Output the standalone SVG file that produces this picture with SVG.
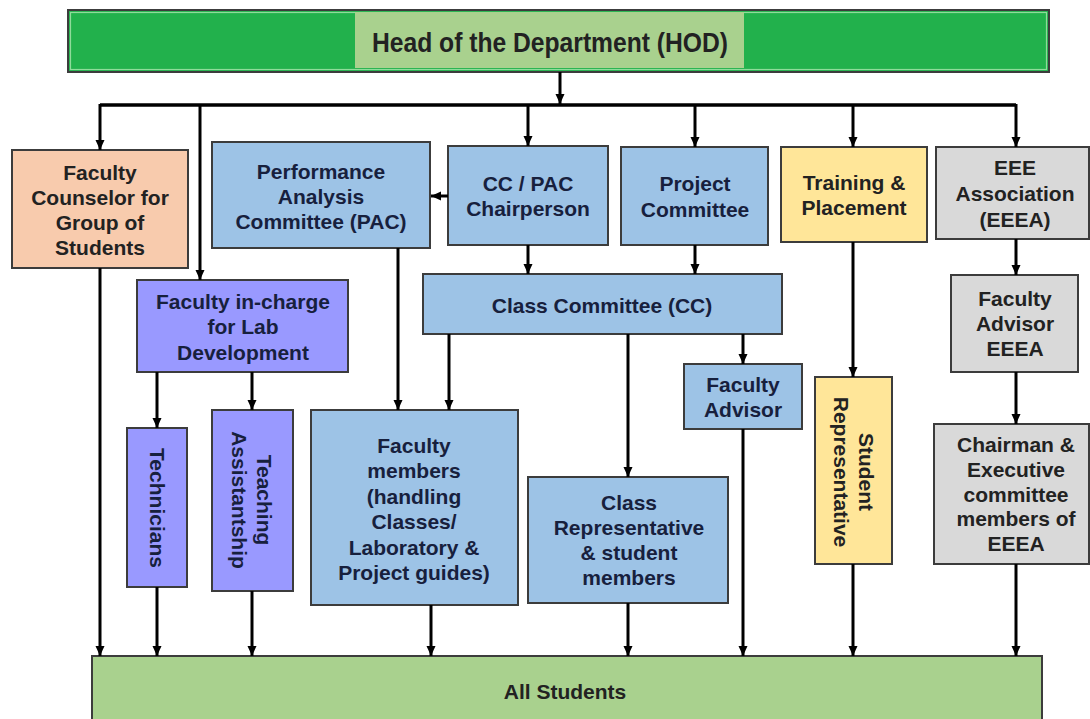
<svg xmlns="http://www.w3.org/2000/svg" width="1090" height="719" viewBox="0 0 1090 719">
<defs>
<marker id="ah" markerUnits="userSpaceOnUse" markerWidth="10" markerHeight="10" viewBox="0 0 10 10" refX="10" refY="5" orient="auto">
<path d="M0,0.5 L10,5 L0,9.5 z" fill="#000"/>
</marker>
<style>
.b{stroke:#3c3c3c;stroke-width:2}
.blue{fill:#9DC3E6}
.peach{fill:#F8CBAD}
.purple{fill:#9999FF}
.yellow{fill:#FFE699}
.gray{fill:#D9D9D9}
.lg{fill:#A9D18E}
.t{font-family:"Liberation Sans",Arial,sans-serif;font-weight:bold;font-size:21px;text-anchor:middle;fill:#17203d}
.k{fill:#222222}
.c path{fill:none;stroke:#000;stroke-width:3}
.c .a{marker-end:url(#ah)}
</style>
</defs>
<rect x="0" y="0" width="1090" height="719" fill="#fff"/>

<g id="hod">
<rect x="68" y="10" width="981" height="62" fill="#22B14C" class="b"/>
<rect x="70.5" y="12.5" width="976" height="57" fill="none" stroke="#8fdc9a" stroke-width="1.2"/>
<rect x="355" y="12" width="389" height="56" fill="#A9D18E"/>
<text x="550" y="52" class="t k" style="font-size:27px" textLength="356" lengthAdjust="spacingAndGlyphs">Head of the Department (HOD)</text>
</g>

<g id="counselor">
<rect x="12" y="150" width="176" height="118" class="b peach"/>
<text class="t k" x="100"><tspan x="100" y="180">Faculty</tspan><tspan x="100" y="205">Counselor for</tspan><tspan x="100" y="230">Group of</tspan><tspan x="100" y="255">Students</tspan></text>
</g>

<g id="pac">
<rect x="212" y="142" width="218" height="106" class="b blue"/>
<text class="t"><tspan x="321" y="179">Performance</tspan><tspan x="321" y="204">Analysis</tspan><tspan x="321" y="229">Committee (PAC)</tspan></text>
</g>

<g id="chair">
<rect x="448" y="146" width="160" height="99" class="b blue"/>
<text class="t"><tspan x="528" y="191">CC / PAC</tspan><tspan x="528" y="216">Chairperson</tspan></text>
</g>

<g id="project">
<rect x="621" y="147" width="147" height="98" class="b blue"/>
<text class="t"><tspan x="695" y="191">Project</tspan><tspan x="695" y="217">Committee</tspan></text>
</g>

<g id="training">
<rect x="781" y="147" width="146" height="95" class="b yellow"/>
<text class="t k"><tspan x="854" y="190">Training &amp;</tspan><tspan x="854" y="215">Placement</tspan></text>
</g>

<g id="eeea">
<rect x="936" y="147" width="153" height="92" class="b gray"/>
<text class="t k"><tspan x="1015" y="175">EEE</tspan><tspan x="1015" y="201">Association</tspan><tspan x="1015" y="227">(EEEA)</tspan></text>
</g>

<g id="lab">
<rect x="137" y="280" width="211" height="92" class="b purple"/>
<text class="t"><tspan x="243" y="309">Faculty in-charge</tspan><tspan x="243" y="334">for Lab</tspan><tspan x="243" y="360">Development</tspan></text>
</g>

<g id="cc">
<rect x="423" y="274" width="359" height="60" class="b blue"/>
<text class="t" x="602" y="313">Class Committee (CC)</text>
</g>

<g id="advisor">
<rect x="684" y="364" width="118" height="65" class="b blue"/>
<text class="t"><tspan x="743" y="392">Faculty</tspan><tspan x="743" y="417">Advisor</tspan></text>
</g>

<g id="fa-eeea">
<rect x="951" y="275" width="127" height="97" class="b gray"/>
<text class="t k"><tspan x="1015" y="306">Faculty</tspan><tspan x="1015" y="331">Advisor</tspan><tspan x="1015" y="356">EEEA</tspan></text>
</g>

<g id="chairman">
<rect x="934" y="424" width="155" height="140" class="b gray"/>
<text class="t k"><tspan x="1016" y="452">Chairman &amp;</tspan><tspan x="1016" y="477">Executive</tspan><tspan x="1016" y="502">committee</tspan><tspan x="1016" y="526">members of</tspan><tspan x="1016" y="551">EEEA</tspan></text>
</g>

<g id="student-rep">
<rect x="815" y="377" width="77" height="187" class="b yellow"/>
<text class="t k" transform="translate(853,472) rotate(90)"><tspan x="0" y="-5.5">Student</tspan><tspan x="0" y="19.5">Representative</tspan></text>
</g>

<g id="technicians">
<rect x="127" y="428" width="60" height="159" class="b purple"/>
<text class="t" transform="translate(157,508) rotate(90)" x="0" y="7">Technicians</text>
</g>

<g id="ta">
<rect x="212" y="410" width="81" height="181" class="b purple"/>
<text class="t" transform="translate(251,500) rotate(90)"><tspan x="0" y="-5.5">Teaching</tspan><tspan x="0" y="19.5">Assistantship</tspan></text>
</g>

<g id="faculty-members">
<rect x="311" y="410" width="207" height="195" class="b blue"/>
<text class="t"><tspan x="414" y="453">Faculty</tspan><tspan x="414" y="478">members</tspan><tspan x="414" y="504">(handling</tspan><tspan x="414" y="529">Classes/</tspan><tspan x="414" y="555">Laboratory &amp;</tspan><tspan x="414" y="580">Project guides)</tspan></text>
</g>

<g id="class-rep">
<rect x="528" y="477" width="200" height="126" class="b blue"/>
<text class="t"><tspan x="629" y="510">Class</tspan><tspan x="629" y="535">Representative</tspan><tspan x="629" y="560">&amp; student</tspan><tspan x="629" y="585">members</tspan></text>
</g>

<g id="all-students">
<rect x="92" y="656" width="950" height="66" class="b lg"/>
<text class="t k" x="565" y="699" style="font-size:21px">All Students</text>
</g>

<g id="connectors" class="c">
<path class="a" d="M560,72 V104"/>
<path d="M100,105 H1016" style="stroke-width:3.5"/>
<path class="a" d="M100,104 V150"/>
<path class="a" d="M200,104 V280"/>
<path class="a" d="M528,104 V146"/>
<path class="a" d="M695,104 V147"/>
<path class="a" d="M853,104 V147"/>
<path class="a" d="M1016,104 V147"/>
<path class="a" d="M448,196 H431"/>
<path class="a" d="M528,245 V274"/>
<path class="a" d="M695,245 V274"/>
<path class="a" d="M743,334 V364"/>
<path class="a" d="M449,334 V410"/>
<path class="a" d="M628,334 V477"/>
<path class="a" d="M398,248 V410"/>
<path class="a" d="M157,372 V428"/>
<path class="a" d="M252,372 V410"/>
<path class="a" d="M853,242 V377"/>
<path class="a" d="M1016,239 V275"/>
<path class="a" d="M1016,372 V424"/>
<path class="a" d="M100,268 V656"/>
<path class="a" d="M157,587 V656"/>
<path class="a" d="M252,591 V656"/>
<path class="a" d="M431,605 V656"/>
<path class="a" d="M628,603 V656"/>
<path class="a" d="M743,429 V656"/>
<path class="a" d="M853,564 V656"/>
<path class="a" d="M1016,564 V656"/>
</g>
</svg>
